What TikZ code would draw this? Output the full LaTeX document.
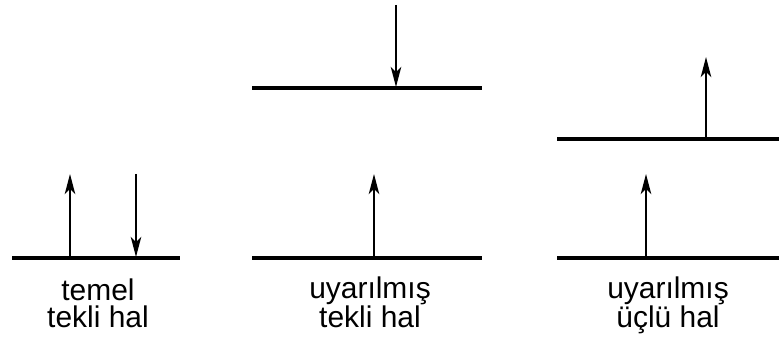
\documentclass[tikz,border=0pt]{standalone}
\usepackage{fontspec}
\setmainfont{Liberation Sans}
\usepackage{tikz}
\usetikzlibrary{arrows.meta,positioning}

\begin{document}
\begin{tikzpicture}[
  level/.style={line width=3.3pt},
  spin/.style={line width=1.8pt, -{Stealth[length=5mm, width=2.6mm, inset=1.3mm]}},
  statelabel/.style={align=center, inner sep=0pt, anchor=base,
                     font=\fontsize{21.3}{19.9}\selectfont}
]
  \useasboundingbox (0,0) rectangle (19.475,8.525);

  % temel tekli hal
  \coordinate (s0a) at (0.3,2.075);
  \coordinate (s0b) at (4.5,2.075);
  \draw[level] (s0a) -- (s0b);
  \coordinate (s0up) at (1.75,2.075);
  \coordinate (s0upend) at (1.75,4.175);
  \coordinate (s0dn) at (3.4,4.175);
  \coordinate (s0dnend) at (3.4,2.1);
  \draw[spin] (s0up) -- (s0upend);
  \draw[spin] (s0dn) -- (s0dnend);
  \node[statelabel] (s0lab) at (2.45,0.325) {temel\\tekli hal};

  % uyarilmis tekli hal
  \coordinate (s1a) at (6.3,2.075);
  \coordinate (s1b) at (12.05,2.075);
  \coordinate (s1c) at (6.3,6.325);
  \coordinate (s1d) at (12.05,6.325);
  \draw[level] (s1a) -- (s1b);
  \draw[level] (s1c) -- (s1d);
  \coordinate (s1up) at (9.35,2.075);
  \coordinate (s1upend) at (9.35,4.175);
  \coordinate (s1dn) at (9.9,8.4);
  \coordinate (s1dnend) at (9.9,6.35);
  \draw[spin] (s1up) -- (s1upend);
  \draw[spin] (s1dn) -- (s1dnend);
  \node[statelabel] (s1lab) at (9.25,0.325) {uyarılmış\\tekli hal};

  % uyarilmis uclu hal
  \coordinate (t1a) at (13.925,2.075);
  \coordinate (t1b) at (19.475,2.075);
  \coordinate (t1c) at (13.925,5.05);
  \coordinate (t1d) at (19.475,5.05);
  \draw[level] (t1a) -- (t1b);
  \draw[level] (t1c) -- (t1d);
  \coordinate (t1up) at (16.15,2.075);
  \coordinate (t1upend) at (16.15,4.175);
  \coordinate (t1up2) at (17.65,5.05);
  \coordinate (t1up2end) at (17.65,7.1);
  \draw[spin] (t1up) -- (t1upend);
  \draw[spin] (t1up2) -- (t1up2end);
  \node[statelabel] (t1lab) at (16.7,0.325) {uyarılmış\\üçlü hal};
\end{tikzpicture}
\end{document}
